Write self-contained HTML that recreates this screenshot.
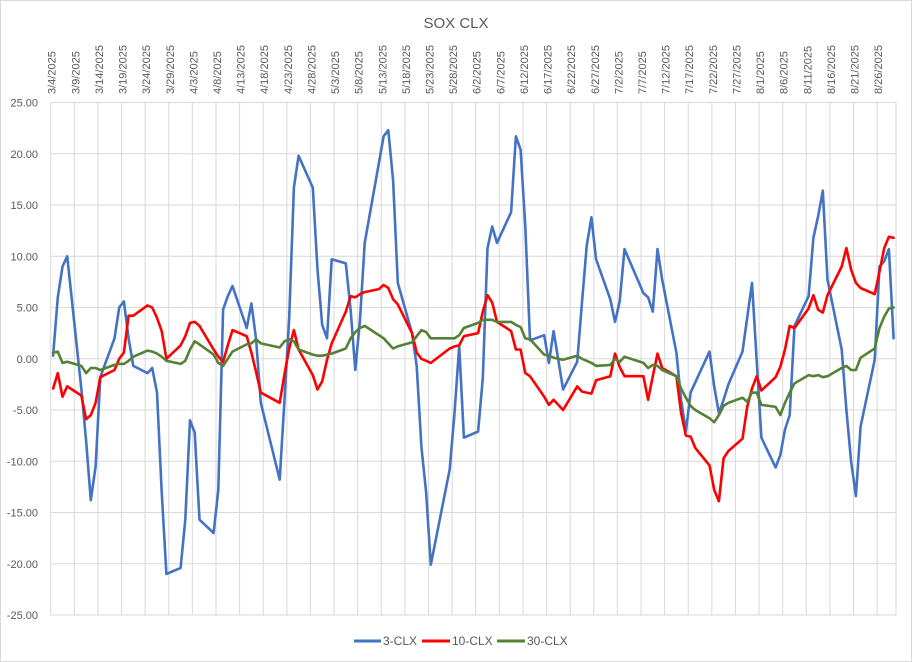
<!DOCTYPE html>
<html><head><meta charset="utf-8"><style>
html,body{margin:0;padding:0;background:#fff;}
svg{display:block;font-family:"Liberation Sans",sans-serif;}
</style></head><body>
<svg id="chart" width="912" height="662" viewBox="0 0 912 662">
<rect x="0.5" y="0.5" width="911" height="661" fill="#fff" stroke="#d9d9d9"/>
<text x="456" y="28" text-anchor="middle" font-size="15" fill="#595959">SOX CLX</text>
<g id="grid"></g>
<g id="xlabels"></g>
<g id="ylabels"></g>
<g id="series"></g>
<g>
<g><line x1="354" y1="641" x2="381" y2="641" stroke="#4472C4" stroke-width="3"/><text x="383" y="645" font-size="12" fill="#595959">3-CLX</text></g>
<g><line x1="422" y1="641" x2="450" y2="641" stroke="#FF0000" stroke-width="3"/><text x="452" y="645" font-size="12" fill="#595959">10-CLX</text></g>
<g><line x1="497" y1="641" x2="525" y2="641" stroke="#548235" stroke-width="3"/><text x="527" y="645" font-size="12" fill="#595959">30-CLX</text></g>
</g>
</svg>
<script>
const dates = ["3/4","3/5","3/6","3/7","3/10","3/11","3/12","3/13","3/14","3/17","3/18","3/19","3/20","3/21","3/24","3/25","3/26","3/27","3/28","3/31",
"4/1","4/2","4/3","4/4","4/7","4/8","4/9","4/10","4/11","4/14","4/15","4/16","4/17","4/21","4/22","4/23","4/24","4/25","4/28","4/29","4/30",
"5/1","5/2","5/5","5/6","5/7","5/8","5/9","5/12","5/13","5/14","5/15","5/16","5/19","5/20","5/21","5/22","5/23","5/27","5/28","5/29","5/30",
"6/2","6/3","6/4","6/5","6/6","6/9","6/10","6/11","6/12","6/13","6/16","6/17","6/18","6/20","6/23","6/24","6/25","6/26","6/27","6/30",
"7/1","7/2","7/3","7/7","7/8","7/9","7/10","7/11","7/14","7/15","7/16","7/17","7/18","7/21","7/22","7/23","7/24","7/25","7/28","7/29","7/30","7/31",
"8/1","8/4","8/5","8/6","8/7","8/8","8/11","8/12","8/13","8/14","8/15","8/18","8/19","8/20","8/21","8/22","8/25","8/26","8/27","8/28","8/29"];
const clx3 = [0.3,6,9,10,-3,-8,-13.8,-10.5,-1.8,2,5,5.6,2,-0.7,-1.4,-0.9,-3.3,-13,-21,-20.4,
-15.7,-6,-7.2,-15.7,-17,-12.8,4.8,6.1,7.1,3,5.4,1.9,-4.3,-11.8,-4,4,16.7,19.8,16.7,8.7,3.3,
2,9.7,9.3,4.8,-1.1,3.8,11.3,19.1,21.7,22.3,17.4,7.4,2.5,-0.7,-8.6,-13,-20.1,-10.8,-5.3,1.2,-7.7,
-7.1,-1.9,10.8,12.9,11.3,14.3,21.7,20.4,12.9,1.8,2.3,-0.4,2.7,-3,-0.3,5.5,11,13.8,9.7,5.8,
3.6,5.6,10.7,6.4,6.0,4.6,10.7,7.7,0.6,-4,-7.1,-3.3,-2.3,0.7,-2.7,-5.3,-4.0,-2.5,0.7,4,7.4,-0.2,
-7.7,-10.6,-9.4,-6.9,-5.5,3.2,6.1,11.8,13.9,16.4,7.7,0.9,-5,-10,-13.4,-6.6,-0.1,9.0,9.5,10.7,2.0];
const clx10 = [-2.9,-1.4,-3.7,-2.7,-3.6,-5.9,-5.5,-4.3,-1.8,-1.1,0,0.6,4.2,4.2,5.2,5.0,4.0,2.7,0,1.3,
2.2,3.5,3.6,3.2,0.9,0.2,-0.3,1.3,2.8,2.2,0.6,-1.3,-3.3,-4.3,-1.5,1.0,2.8,0.9,-1.6,-3.0,-2.2,
-0.1,1.5,4.6,6.1,6.0,6.3,6.5,6.8,7.2,6.9,5.8,5.3,2.5,0.6,0,-0.2,-0.4,1.0,1.2,1.3,2.2,
2.5,4.6,6.2,5.5,3.6,2.7,0.9,0.9,-1.4,-1.7,-3.7,-4.5,-4.0,-5.0,-2.7,-3.2,-3.3,-3.4,-2.1,-1.7,
0.5,-0.8,-1.7,-1.7,-4.0,-1.7,0.5,-0.9,-1.7,-5.3,-7.5,-7.6,-8.7,-10.4,-12.8,-13.9,-9.7,-9.0,-7.8,-4.7,-2.9,-1.7,
-3.1,-1.8,-0.8,0.9,3.2,3.0,4.9,6.2,4.8,4.5,6.2,9.0,10.8,8.7,7.4,6.9,6.3,8.5,10.8,11.9,11.8];
const clx30 = [0.6,0.7,-0.4,-0.3,-0.7,-1.4,-0.9,-0.9,-1.1,-0.6,-0.5,-0.5,-0.2,0.2,0.8,0.7,0.5,0.2,-0.2,-0.5,
-0.2,0.9,1.7,1.4,0.4,-0.4,-0.7,0.0,0.7,1.4,1.5,1.9,1.5,1.1,1.7,1.9,1.7,0.9,0.4,0.3,0.3,
0.4,0.5,1.0,2.0,2.6,3.0,3.2,2.3,2.0,1.5,1.0,1.2,1.6,2.2,2.8,2.6,2.0,2.0,2.0,2.3,3.0,
3.5,3.8,3.8,3.8,3.6,3.6,3.3,3.1,2.0,1.9,0.4,0.3,0.1,-0.1,0.3,0,-0.2,-0.4,-0.7,-0.6,
0.0,-0.3,0.2,-0.4,-0.9,-0.6,-0.7,-1.1,-1.7,-2.9,-3.8,-4.6,-5.0,-5.8,-6.2,-5.5,-4.6,-4.3,-3.8,-4.2,-3.3,-3.3,
-4.5,-4.7,-5.5,-4.3,-3.3,-2.4,-1.6,-1.7,-1.6,-1.8,-1.7,-0.9,-0.7,-1.1,-1.1,0.1,1.0,3.0,4.1,4.9,5.0];
const yTicks = [25,20,15,10,5,0,-5,-10,-15,-20,-25];
const tickDates = ["3/4","3/9","3/14","3/19","3/24","3/29","4/3","4/8","4/13","4/18","4/23","4/28","5/3","5/8","5/13","5/18","5/23","5/28","6/2","6/7","6/12","6/17","6/22","6/27","7/2","7/7","7/12","7/17","7/22","7/27","8/1","8/6","8/11","8/16","8/21","8/26"];

const NS = "http://www.w3.org/2000/svg";
const L = 50.7, R = 896, T = 102.5, B = 615;
const start = Date.UTC(2025, 2, 4);
const totalDays = 179;
function dayIndex(s){ const p = s.split("/"); return (Date.UTC(2025, +p[0]-1, +p[1]) - start) / 86400000; }
function xTick(s){ return L + dayIndex(s) * (R - L) / totalDays; }
function xPoint(s){ return L + (dayIndex(s) + 0.5) * (R - L) / totalDays; }
function y(v){ return T + (25 - v) * (B - T) / 50; }

const grid = document.getElementById("grid");
yTicks.forEach(v => {
  const ln = document.createElementNS(NS, "line");
  ln.setAttribute("x1", L); ln.setAttribute("x2", R);
  ln.setAttribute("y1", y(v)); ln.setAttribute("y2", y(v));
  ln.setAttribute("stroke", "#d9d9d9"); ln.setAttribute("stroke-width", "1");
  
  
  grid.appendChild(ln);
  const t = document.createElementNS(NS, "text");
  t.setAttribute("x", 38); t.setAttribute("y", y(v) + 4);
  t.setAttribute("text-anchor", "end"); t.setAttribute("font-size", "11"); t.setAttribute("fill", "#595959");
  t.textContent = v.toFixed(2);
  
  
  document.getElementById("ylabels").appendChild(t);
});
tickDates.forEach(d => {
  const x = xTick(d);
  const ln = document.createElementNS(NS, "line");
  ln.setAttribute("x1", x); ln.setAttribute("x2", x);
  ln.setAttribute("y1", T); ln.setAttribute("y2", B);
  ln.setAttribute("stroke", "#d9d9d9"); ln.setAttribute("stroke-width", "1");
  
  
  grid.appendChild(ln);
  const t = document.createElementNS(NS, "text");
  t.setAttribute("transform", "translate(" + (x + 5) + ",94) rotate(-90)");
  t.setAttribute("font-size", "11"); t.setAttribute("fill", "#595959");
  t.textContent = d + "/2025";
  
  
  document.getElementById("xlabels").appendChild(t);
});
const rightEdge = document.createElementNS(NS, "line");
rightEdge.setAttribute("x1", R); rightEdge.setAttribute("x2", R);
rightEdge.setAttribute("y1", T); rightEdge.setAttribute("y2", B);
rightEdge.setAttribute("stroke", "#d9d9d9");


grid.appendChild(rightEdge);

function drawSeries(vals, color, name){
  const p = document.createElementNS(NS, "polyline");
  p.setAttribute("points", vals.map((v, i) => xPoint(dates[i]).toFixed(1) + "," + y(v).toFixed(1)).join(" "));
  p.setAttribute("fill", "none"); p.setAttribute("stroke", color);
  p.setAttribute("stroke-width", "2.6"); p.setAttribute("stroke-linejoin", "round"); p.setAttribute("stroke-linecap", "round");
  
  
  document.getElementById("series").appendChild(p);
}
drawSeries(clx3, "#4472C4", "line-3-clx");
drawSeries(clx10, "#FF0000", "line-10-clx");
drawSeries(clx30, "#548235", "line-30-clx");
</script>
</body></html>
